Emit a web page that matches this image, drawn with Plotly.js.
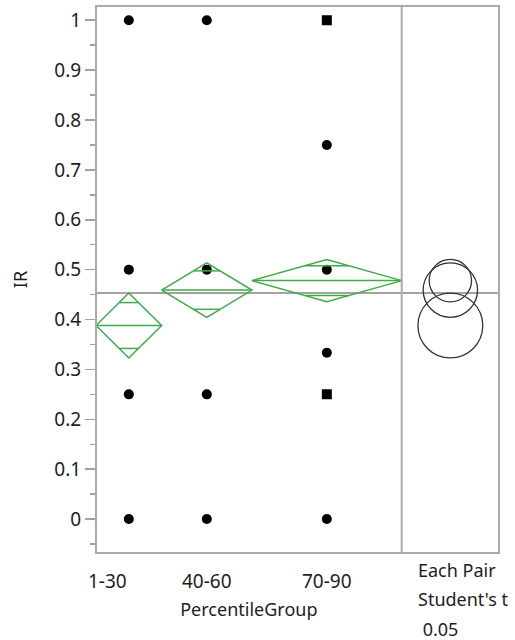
<!DOCTYPE html>
<html>
<head>
<meta charset="utf-8">
<script src="https://cdn.plot.ly/plotly-3.0.1.min.js"></script>
<style>
  html, body { margin: 0; padding: 0; background: #ffffff; }
  #chart { width: 515px; height: 640px; }
</style>
</head>
<body>
<div id="chart"></div>
<script>
// One-way analysis of IR by PercentileGroup: points, means diamonds,
// grand mean line and Student's t comparison circles.
const groups = ['1-30', '40-60', '70-90'];
const groupN = [32, 44, 73];              // group sizes (set the group widths)
const groupMean = [0.388, 0.459, 0.478];  // group means
const ciHalf = [0.065, 0.0545, 0.0425];   // 95% CI half-widths of the means

const g1Values = [1, 0.5, 0.25, 0];
const g2Values = [1, 0.5, 0.25, 0];
const g3Values = [1, 0.75, 0.5, 0.3333, 0.25, 0];
const groupValues = [g1Values, g2Values, g3Values];

const compareLabel = ['Each Pair', "Student's t", '\u00a00.05'];

// ---- styling / geometry ----
const FIG_W = 515, FIG_H = 640;
const M = { l: 96, r: 16, t: 6, b: 87 };
const plotW = FIG_W - M.l - M.r;
const plotH = FIG_H - M.t - M.b;
const yRange = [-0.068, 1.0285];
const splitAt = 0.7586;                   // paper x where the circle panel begins
const FONT = 'Noto Sans, Open Sans, sans-serif';
const FS = 19;
const TXT = '#1e1e1e';
const GREEN = '#3fab47';
const FRAME = '#ababab';

const totalN = groupN.reduce((a, b) => a + b, 0);
const starts = [];
let acc = 0;
groupN.forEach(n => { starts.push(acc); acc += n; });
const centers = groupN.map((n, i) => starts[i] + n / 2);
const grandMean = groupN.reduce((s, n, i) => s + n * groupMean[i], 0) / totalN;

// keep circles round: x2 scale matches the y scale in pixels
const pxPerY = plotH / (yRange[1] - yRange[0]);
const x2Half = (plotW * (1 - splitAt) / 2) / pxPerY;

const traces = [];

// data points
const pointSymbols = [
  ['circle', 'circle', 'circle', 'circle'],
  ['circle', 'circle', 'circle', 'circle'],
  ['square', 'circle', 'circle', 'circle', 'square', 'circle']
];
groupValues.forEach((vals, i) => {
  traces.push({
    type: 'scatter', mode: 'markers', xaxis: 'x', yaxis: 'y',
    x: vals.map(() => centers[i]), y: vals,
    marker: { color: '#000000', size: 10, symbol: pointSymbols[i], line: { width: 0 } },
    hoverinfo: 'y', showlegend: false
  });
});

// means diamonds
groups.forEach((g, i) => {
  const s = starts[i], e = starts[i] + groupN[i], c = centers[i];
  const m = groupMean[i], h = ciHalf[i];
  const d = h / Math.SQRT2;
  const hw = (groupN[i] / 2) * (1 - 1 / Math.SQRT2);
  traces.push({
    type: 'scatter', mode: 'lines', xaxis: 'x', yaxis: 'y',
    x: [s, c, e, c, s, null, s, e, null, c - hw, c + hw, null, c - hw, c + hw],
    y: [m, m + h, m, m - h, m, null, m, m, null, m + d, m + d, null, m - d, m - d],
    line: { color: GREEN, width: 1.5 },
    hoverinfo: 'skip', showlegend: false
  });
});

const shapes = [];
// grand mean across both panels
shapes.push({ type: 'line', xref: 'paper', yref: 'y', x0: 0, x1: 1, y0: grandMean, y1: grandMean,
  line: { color: '#858585', width: 1.5 }, layer: 'below' });
// comparison circles
groups.forEach((g, i) => {
  const r = ciHalf[i], m = groupMean[i];
  shapes.push({ type: 'circle', xref: 'x2', yref: 'y',
    x0: -r, x1: r, y0: m - r, y1: m + r,
    line: { color: '#333333', width: 1.3 } });
});
// frame and panel divider
shapes.push({ type: 'rect', xref: 'paper', yref: 'paper', x0: 0, x1: 1, y0: 0, y1: 1,
  line: { color: FRAME, width: 2 } });
shapes.push({ type: 'line', xref: 'paper', yref: 'paper', x0: splitAt, x1: splitAt, y0: 0, y1: 1,
  line: { color: FRAME, width: 2 } });

const pyToPaper = py => (M.t + plotH - py) / plotH;

const annotations = [];
groups.forEach((g, i) => {
  annotations.push({
    xref: 'x', yref: 'paper', x: centers[i], y: pyToPaper(581),
    xanchor: 'center', yanchor: 'middle', xshift: i === 0 ? -21 : 0,
    text: g, showarrow: false, font: { family: FONT, size: FS, color: TXT }
  });
});
const compareY = [570, 599, 629];
compareLabel.forEach((t, i) => {
  annotations.push({
    xref: 'paper', yref: 'paper', x: splitAt + 14 / plotW, y: pyToPaper(compareY[i]),
    xanchor: 'left', yanchor: 'middle', text: t, showarrow: false,
    font: { family: FONT, size: FS - 1, color: TXT }
  });
});

const layout = {
  width: FIG_W, height: FIG_H,
  margin: M,
  paper_bgcolor: '#ffffff', plot_bgcolor: '#ffffff',
  font: { family: FONT, size: FS, color: TXT },
  showlegend: false,
  xaxis: {
    domain: [0, splitAt], range: [0, totalN], showgrid: false, zeroline: false,
    showticklabels: false, ticks: '', fixedrange: true,
    title: { text: 'PercentileGroup', font: { family: FONT, size: FS - 1, color: TXT }, standoff: 50 }
  },
  xaxis2: {
    domain: [splitAt, 1], range: [-x2Half, x2Half], anchor: 'y',
    showgrid: false, zeroline: false, showticklabels: false, ticks: '', fixedrange: true
  },
  yaxis: {
    range: yRange, showgrid: false, zeroline: false,
    tick0: 0, dtick: 0.1, ticks: 'outside', ticklen: 10, tickwidth: 1.5, tickcolor: '#a0a0a0',
    minor: { dtick: 0.05, tick0: 0, ticks: 'outside', ticklen: 5, tickwidth: 1.5, tickcolor: '#a0a0a0' },
    tickfont: { family: FONT, size: FS, color: TXT },
    title: { text: 'IR', font: { family: FONT, size: FS - 1, color: TXT }, standoff: 22 },
    automargin: false, fixedrange: true
  },
  shapes: shapes,
  annotations: annotations
};

Plotly.newPlot('chart', traces, layout, { displayModeBar: false, staticPlot: true });
</script>
</body>
</html>
